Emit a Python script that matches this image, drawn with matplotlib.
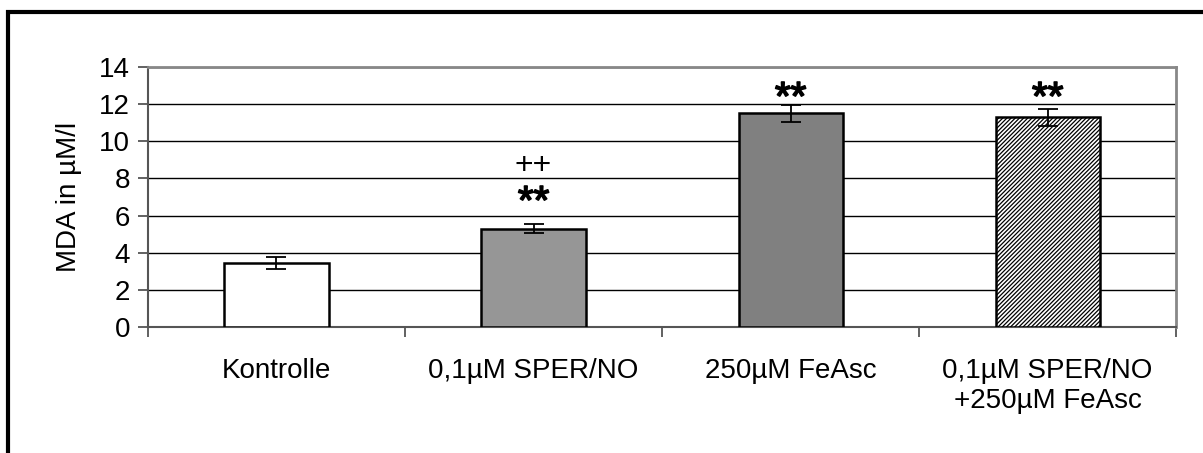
import matplotlib.pyplot as plt
import matplotlib.patches as mpatches
import matplotlib.patheffects as pe
import numpy as np

# ---------------------------------------------------------
# Daten
# ---------------------------------------------------------
categories = ["Kontrolle", "0,1µM SPER/NO", "250µM FeAsc", "0,1µM SPER/NO\n+250µM FeAsc"]
mda_values = [3.45, 5.3, 11.5, 11.3]
mda_errors = [0.3, 0.25, 0.45, 0.45]
sig_stars = ["", "**", "**", "**"]
sig_plus = ["", "++", "", ""]

bar_colors = ["white", "#969696", "#808080", "white"]
bar_hatches = [None, None, None, "////////"]

plt.rcParams["font.family"] = ["Liberation Sans", "DejaVu Sans"]
plt.rcParams["hatch.linewidth"] = 0.9

fig = plt.figure(figsize=(12.03, 4.53), dpi=100)
ax = fig.add_axes([0.123, 0.2781, 0.8547, 0.574])

# Rahmen um das ganze Diagramm (läuft rechts/unten aus dem Bild)
frame = mpatches.Rectangle((8 / 1203, -0.1), 1.2, 1 - 12 / 453 + 0.1,
                           transform=fig.transFigure, fill=False,
                           edgecolor="black", lw=3, clip_on=False)
fig.add_artist(frame)

x = np.arange(len(categories))

for i in range(len(categories)):
    ax.bar(x[i], mda_values[i], width=0.405, color=bar_colors[i],
           edgecolor="black", linewidth=1.8, hatch=bar_hatches[i], zorder=3)

ax.errorbar(x, mda_values, yerr=mda_errors, fmt="none", ecolor="black",
            elinewidth=1.3, capsize=7, capthick=1.3, zorder=4)

# Signifikanzzeichen
star_fx = [pe.withStroke(linewidth=1.2, foreground="black")]
for i in range(len(categories)):
    if sig_stars[i] and not sig_plus[i]:
        ax.text(x[i], 11.7, sig_stars[i], ha="center", va="baseline",
                fontsize=29, path_effects=star_fx)
    elif sig_stars[i]:
        ax.text(x[i], 6.1, sig_stars[i], ha="center", va="baseline",
                fontsize=29, path_effects=star_fx)
        ax.text(x[i], 8.25, sig_plus[i], ha="center", va="baseline", fontsize=23)

ax.set_ylim(0, 14)
ax.set_xlim(-0.5, len(categories) - 0.5)
ax.set_yticks(np.arange(0, 15, 2))
ax.yaxis.grid(True, color="black", lw=1.0, zorder=0)
ax.set_axisbelow(True)

ax.set_xticks(x)
ax.set_xticklabels(categories, fontsize=20, linespacing=1.2)
ax.set_xticks(np.arange(-0.5, len(categories), 1), minor=True)
ax.tick_params(axis="x", which="major", length=0, pad=22)
ax.tick_params(axis="x", which="minor", length=7, width=1.3, color="#555555")
ax.tick_params(axis="y", length=7, width=1.3, color="#555555", labelsize=20, pad=6)

for side in ["left", "bottom"]:
    ax.spines[side].set_color("#555555")
    ax.spines[side].set_linewidth(1.5)
for side in ["top", "right"]:
    ax.spines[side].set_color("#888888")
    ax.spines[side].set_linewidth(2)

ax.set_ylabel("MDA in µM/l", fontsize=20, labelpad=12)

fig.savefig("out.png", dpi=100)
